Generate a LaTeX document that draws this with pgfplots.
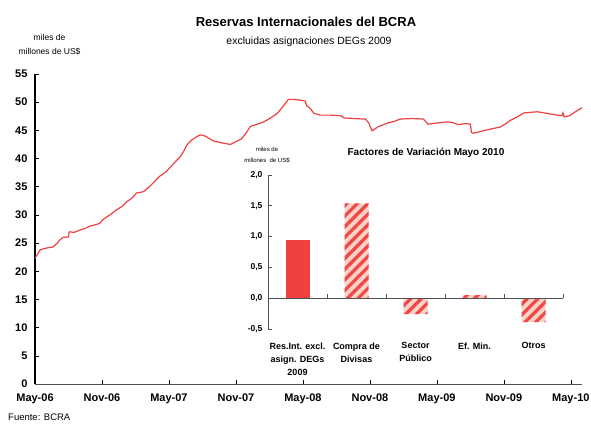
\documentclass[border=0pt]{standalone}
\usepackage{fontspec}
\setmainfont{Liberation Sans}
\usepackage{pgfplots}
\pgfplotsset{compat=1.18}
\usetikzlibrary{patterns.meta}
\definecolor{linered}{HTML}{F04040}
\definecolor{barred}{HTML}{F04040}
\definecolor{hatchbg}{HTML}{F9D3C6}
\definecolor{hatchred}{HTML}{F04848}
\definecolor{axgray}{HTML}{505050}

\begin{document}
\begin{tikzpicture}
\useasboundingbox (0,0) rectangle (591pt,423pt);

% main chart: reserves, months since May-06
\begin{axis}[
  at={(35pt,39pt)}, anchor=south west, scale only axis,
  width=547pt, height=310pt,
  xmin=0, xmax=49, ymin=0, ymax=55,
  axis x line*=bottom, axis y line*=left,
  x axis line style={axgray, line width=0.8pt},
  y axis line style={black, line width=1.1pt},
  tick align=inside, major tick length=4pt,
  tick style={black, line width=0.6pt},
  xtick={0,6,...,48},
  xticklabels={May-06,Nov-06,May-07,Nov-07,May-08,Nov-08,May-09,Nov-09,May-10},
  ytick={0,5,...,55},
  /pgf/number format/assume math mode=true,
  tick label style={font=\bfseries\fontsize{11}{13}\selectfont},
  xticklabel style={yshift=-6pt},
  yticklabel style={xshift=-4pt},
  clip=false,
]
\addplot[linered, line width=1.2pt] coordinates {
(0,22.3)(0.2,22.9)(0.45,23.8)(0.8,24.0)(1.2,24.2)(1.6,24.3)(2.0,25.0)(2.2,25.5)
(2.5,26.0)(3.0,26.1)(3.05,26.9)(3.1,27.0)(3.5,26.9)(4.0,27.3)(4.5,27.6)(4.9,28.0)
(5.5,28.3)(5.8,28.5)(6.1,29.2)(6.7,30.0)(7.3,30.9)(7.8,31.5)(8.2,32.3)(8.7,33.0)
(9.1,33.9)(9.7,34.1)(10.3,35.1)(10.8,36.1)(11.2,36.9)(11.7,37.6)(12.1,38.4)(12.6,39.5)
(13.0,40.3)(13.3,41.2)(13.6,42.4)(14.05,43.3)(14.5,43.9)(14.8,44.2)(15.1,44.1)(15.4,43.8)
(16.0,43.1)(16.7,42.8)(17.5,42.5)(18.0,43.0)(18.5,43.5)(18.9,44.5)(19.3,45.7)(19.9,46.1)
(20.5,46.5)(21.1,47.2)(21.7,48.0)(22.2,49.2)(22.7,50.5)(23.2,50.5)(23.6,50.4)(24.2,50.2)
(24.35,49.3)(24.6,49.0)(25.0,48.0)(25.6,47.7)(26.5,47.7)(27.4,47.6)(27.7,47.2)(28.5,47.1)
(29.6,47.0)(29.9,46.3)(30.2,44.9)(30.7,45.6)(31.2,46.0)(31.6,46.3)(32.2,46.6)(32.7,47.0)
(33.8,47.1)(34.8,47.0)(35.2,46.1)(36.0,46.3)(36.9,46.5)(37.4,46.4)(37.9,46.0)(38.5,46.2)
(39.0,46.1)(39.1,44.6)(39.3,44.5)(40.5,45.1)(41.7,45.6)(42.2,46.2)(42.6,46.8)(43.2,47.4)
(43.8,48.1)(44.4,48.2)(45.0,48.3)(45.9,48.0)(46.8,47.7)(47.2,47.6)(47.3,48.1)(47.4,47.4)
(47.9,47.6)(48.4,48.3)(49.0,49.0)
};
\end{axis}

% inset: factores de variacion
\begin{axis}[
  at={(268pt,94pt)}, anchor=south west, scale only axis,
  width=295pt, height=154pt,
  xmin=-0.5, xmax=4.5, ymin=-0.5, ymax=2.0,
  axis x line*=bottom, axis y line*=left,
  x axis line style={draw=none},
  y axis line style={axgray, line width=1pt},
  xtick={0,...,4},
  xticklabels={{Res.Int. excl.\\asign. DEGs\\2009},{Compra de\\Divisas},{Sector\\P\'ublico},{Ef. Min.},{Otros}},
  major x tick style={draw=none},
  xticklabel style={align=center, font=\bfseries\fontsize{9}{13}\selectfont, yshift=-6pt},
  ytick={-0.5,0,0.5,1,1.5,2},
  tick align=inside, major tick length=4pt,
  y tick style={axgray, line width=0.6pt},
  /pgf/number format/.cd, fixed, fixed zerofill, precision=1, use comma, assume math mode=true,
  /pgfplots/.cd,
  yticklabel style={font=\bfseries\fontsize{8.5}{10}\selectfont, xshift=-2pt},
  ybar, bar width=24pt, bar shift=0pt,
  clip=false,
]
\addplot[fill=barred, draw=none] coordinates {(0,0.94)};
\addplot[fill=hatchbg, draw=none,
  postaction={pattern={Lines[angle=45,distance=7.5pt,line width=3.3pt]}, pattern color=hatchred}]
  coordinates {(1,1.54)(2,-0.26)(3,0.05)(4,-0.39)};
\draw[axgray, line width=0.8pt] (axis cs:-0.5,0) -- (axis cs:4.5,0);
\draw[axgray, line width=0.6pt] (axis cs:0.5,0) -- (axis cs:0.5,0.065);
\draw[axgray, line width=0.6pt] (axis cs:1.5,0) -- (axis cs:1.5,0.065);
\draw[axgray, line width=0.6pt] (axis cs:2.5,0) -- (axis cs:2.5,0.065);
\draw[axgray, line width=0.6pt] (axis cs:3.5,0) -- (axis cs:3.5,0.065);
\draw[axgray, line width=0.6pt] (axis cs:4.5,0) -- (axis cs:4.5,0.065);
\end{axis}

% titles and notes
\node[font=\bfseries\fontsize{13}{15}\selectfont] at (306pt,401pt) {Reservas Internacionales del BCRA};
\node[font=\fontsize{10.5}{12}\selectfont] at (309pt,381pt) {excluidas asignaciones DEGs 2009};
\node[font=\fontsize{8.5}{10}\selectfont] at (49.5pt,386pt) {miles de};
\node[font=\fontsize{8.5}{10}\selectfont] at (49.5pt,371pt) {millones de US\$};
\node[font=\bfseries\fontsize{10}{12}\selectfont] at (426pt,270pt) {Factores de Variación Mayo 2010};
\node[font=\fontsize{6}{7}\selectfont] at (267pt,274pt) {miles de};
\node[font=\fontsize{6}{7}\selectfont] at (267pt,263pt) {millones \ de US\$};
\node[font=\fontsize{9.5}{11}\selectfont, anchor=base west, inner sep=0pt] at (8pt,2.5pt) {Fuente: BCRA};
\end{tikzpicture}
\end{document}
